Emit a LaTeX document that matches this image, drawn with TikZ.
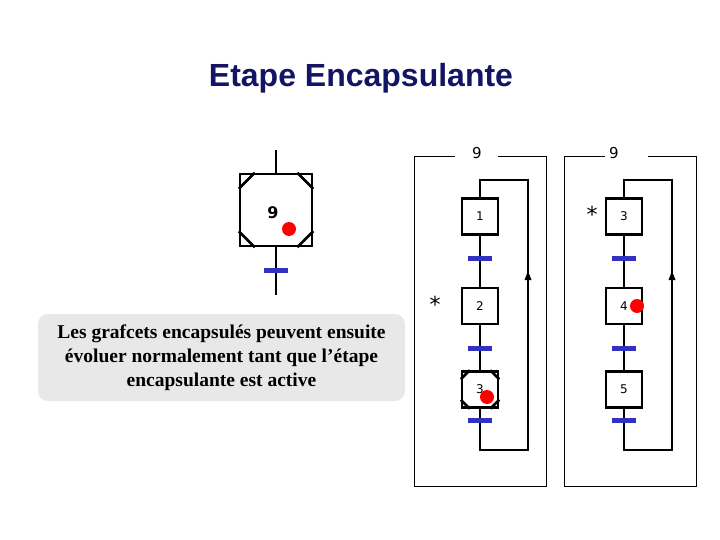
\documentclass[tikz,border=0pt]{standalone}
\usepackage{fontspec}
\setmainfont{Liberation Serif}
\newfontfamily\vf{DejaVu Sans}
\newfontfamily\af{Liberation Sans}
\definecolor{navy}{RGB}{20,20,100}
\definecolor{tb}{RGB}{50,50,190}
\begin{document}
\begin{tikzpicture}[x=1pt,y=-1pt,
 stepbox/.style={draw,line width=2.5pt,minimum size=36pt,inner sep=0pt,font=\vf\fontsize{12}{14}\selectfont},
 trans/.style={draw=tb,line width=5pt},
 ln/.style={line width=2.5pt},
 dot/.style={fill=red,circle,minimum size=14pt,inner sep=0pt},
 frame/.style={draw,line width=0.6pt}]
\useasboundingbox (0,0) rectangle (720,540);
\node[font=\af\bfseries\fontsize{32}{36}\selectfont,text=navy] (title) at (361,78) {Etape Encapsulante};
% macro step
\node[stepbox,minimum size=72pt] (m) at (276,210) {};
\node[font=\vf\bfseries\fontsize{16}{18}\selectfont] (m9) at (273,213) {9};
\draw[ln] ([shift={(0,16)}]m.north west) -- ([shift={(16,0)}]m.north west);
\draw[ln] ([shift={(0,16)}]m.north east) -- ([shift={(-16,0)}]m.north east);
\draw[ln] ([shift={(0,-16)}]m.south west) -- ([shift={(16,0)}]m.south west);
\draw[ln] ([shift={(0,-16)}]m.south east) -- ([shift={(-16,0)}]m.south east);
\coordinate (mt) at (276,150); \coordinate (mb) at (276,295);
\draw[ln] (mt) -- (m.north); \draw[ln] (m.south) -- (mb);
\draw[trans] (264,270) -- (288,270);
\node[dot] (d0) at (289,229) {};
% text
\node[fill=black!9,rounded corners=10pt,minimum width=367pt,minimum height=87pt,align=center,font=\fontsize{19.5}{24}\selectfont\bfseries] (txt) at (221.5,357.5) {Les grafcets encapsulés peuvent ensuite\\ évoluer normalement tant que l’étape\\ encapsulante est active};
% frames
\foreach \x/\n in {414/a,564/b}{
 \draw[frame] (\x+41,156) -- (\x,156) -- (\x,486) -- (\x+132,486) -- (\x+132,156) -- (\x+84,156);
}
\node[font=\vf\fontsize{15}{18}\selectfont] (l1) at (477,153) {9};
\node[font=\vf\fontsize{15}{18}\selectfont] (l2) at (614,153) {9};
% chains
\foreach \cx/\s/\t/\u/\p in {480/1/2/3/A,624/3/4/5/B}{
 \node[stepbox] (\p1) at (\cx,216.5) {\s};
 \node[stepbox] (\p2) at (\cx,306) {\t};
 \node[stepbox] (\p3) at (\cx,389.5) {\u};
 \coordinate (\p top) at (\cx,180);
 \coordinate (\p bot) at (\cx,450);
 \coordinate (\p tr) at (\cx+48,180);
 \coordinate (\p br) at (\cx+48,450);
 \coordinate (\p ar) at (\cx+48,272);
 \draw[ln] (\p1) -- (\p2); \draw[ln] (\p2) -- (\p3); \draw[ln] (\p3) -- (\p bot) -- (\p br) -- (\p tr) -- (\p top) -- (\p1);
 \fill (\p ar) ++(-3.5,8) -- ++(7,0) -- ++(-3.5,-9) -- cycle;
 \draw[trans] (\cx-12,258) -- (\cx+12,258);
 \draw[trans] (\cx-12,348) -- (\cx+12,348);
 \draw[trans] (\cx-12,420) -- (\cx+12,420);
}
% corners on step A3
\draw[ln] ([shift={(0,9)}]A3.north west) -- ([shift={(9,0)}]A3.north west);
\draw[ln] ([shift={(0,9)}]A3.north east) -- ([shift={(-9,0)}]A3.north east);
\draw[ln] ([shift={(0,-9)}]A3.south west) -- ([shift={(9,0)}]A3.south west);
\draw[ln] ([shift={(0,-9)}]A3.south east) -- ([shift={(-9,0)}]A3.south east);
\node[dot] (d1) at (487,397) {};
\node[dot] (d2) at (637,306) {};
\node[font=\vf\fontsize{22}{24}\selectfont] (s1) at (435,304) {*};
\node[font=\vf\fontsize{22}{24}\selectfont] (s2) at (592,214) {*};
\end{tikzpicture}
\end{document}
